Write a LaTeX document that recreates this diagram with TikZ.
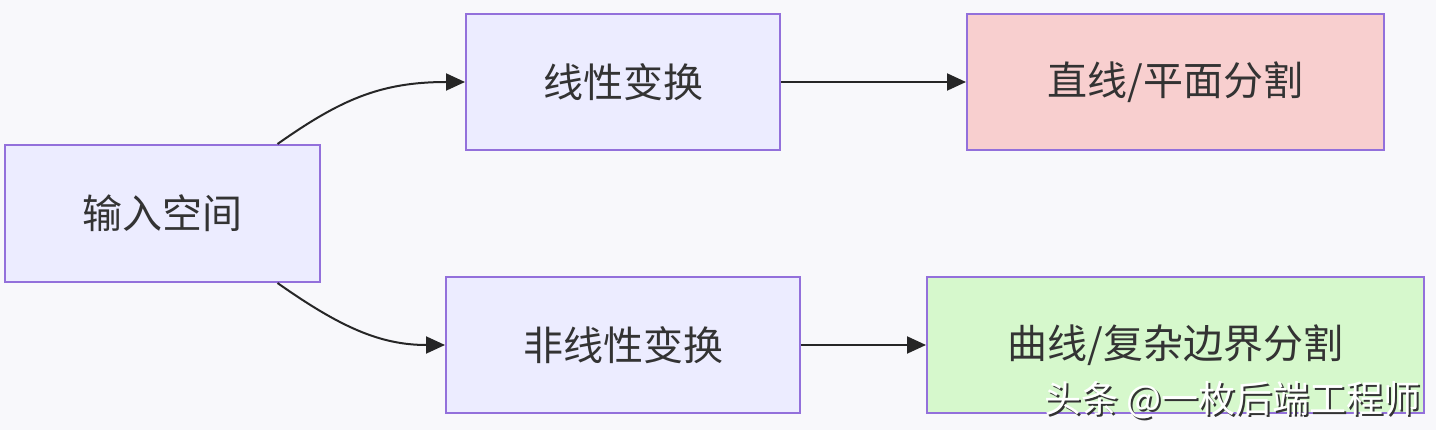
\documentclass[tikz,border=0pt]{standalone}
\usepackage{fontspec}
\setmainfont{Noto Sans CJK SC}
\usetikzlibrary{arrows.meta}
\definecolor{bg}{HTML}{F8F8FB}
\definecolor{lav}{HTML}{ECECFF}
\definecolor{bord}{HTML}{9370DB}
\definecolor{pinkf}{HTML}{F8CFCF}
\definecolor{greenf}{HTML}{D6F8CC}
\definecolor{txt}{HTML}{333333}
\begin{document}
\begin{tikzpicture}[x=1pt,y=-1pt,
  box/.style={draw=bord,line width=2pt,fill=lav,inner sep=0pt,text=txt,
    font=\fontsize{40}{46}\selectfont},
  conn/.style={draw=black!85,line width=2pt,-{Triangle[length=19pt,width=17pt]}}]
\useasboundingbox[fill=bg] (0,0) rectangle (1436,430);
\node[box,minimum width=315pt,minimum height=137pt] (in) at (162.5,213.5) {输入空间};
\node[box,minimum width=314pt,minimum height=136pt] (lin) at (623,82) {线性变换};
\node[box,fill=pinkf,minimum width=417pt,minimum height=136pt] (seg1) at (1175.5,82) {直线/平面分割};
\node[box,minimum width=354pt,minimum height=136pt] (nl) at (623,345) {非线性变换};
\node[box,fill=greenf,minimum width=497pt,minimum height=136pt] (seg2) at (1175.5,345) {曲线/复杂边界分割};
\coordinate (s1) at ([xshift=115pt]in.north);
\coordinate (s2) at ([xshift=115pt]in.south);
\draw[conn] (s1) .. controls (340,100) and (380,82) .. (lin.west);
\draw[conn] (s2) .. controls (340,327) and (380,345) .. (nl.west);
\draw[conn] (lin.east) -- (seg1.west);
\draw[conn] (nl.east) -- (seg2.west);
\node[anchor=south east,inner sep=0pt,font=\fontsize{37}{42}\selectfont] (wm) at (1421,421)
  {\makebox[0pt][l]{\raisebox{-2pt}{\hspace{2pt}\textcolor{black!80}{头条 @一枚后端工程师}}}\textcolor{white}{头条 @一枚后端工程师}};
\end{tikzpicture}
\end{document}
